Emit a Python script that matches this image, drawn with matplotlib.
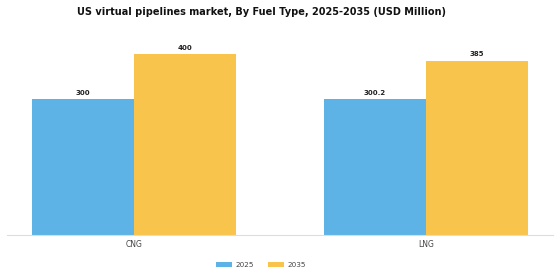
import numpy as np
import matplotlib
matplotlib.use("Agg")
import matplotlib.pyplot as plt

categories = ["CNG", "LNG"]
years = ["2025", "2035"]
values_2025 = [300, 300.2]
values_2035 = [400, 385]
labels_2025 = ["300", "300.2"]
labels_2035 = ["400", "385"]

colors = ["#5DB3E6", "#F8C44C"]

fig = plt.figure(figsize=(5.6, 2.8), dpi=100)
ax = fig.add_axes([0.0125, 0.161, 0.975, 0.71])

x = np.arange(len(categories))
w = 0.35
b1 = ax.bar(x - w / 2, values_2025, w, color=colors[0], label=years[0])
b2 = ax.bar(x + w / 2, values_2035, w, color=colors[1], label=years[1])

for bars, labs in ((b1, labels_2025), (b2, labels_2035)):
    for bar, lab in zip(bars, labs):
        ax.text(bar.get_x() + bar.get_width() / 2, bar.get_height() + 8, lab,
                ha="center", va="bottom", fontsize=5, fontweight="bold", color="#222222")

ax.set_xlim(-0.435, 1.435)
ax.set_ylim(0, 440)
ax.set_xticks(x)
ax.set_xticklabels(categories, fontsize=5.5, color="#444444")
ax.tick_params(axis="x", length=0, pad=4)
ax.set_yticks([])
for s in ["top", "right", "left"]:
    ax.spines[s].set_visible(False)
ax.spines["bottom"].set_color("#dddddd")

fig.suptitle("US virtual pipelines market, By Fuel Type, 2025-2035 (USD Million)",
             fontsize=7, fontweight="bold", x=0.467, y=0.975, color="#111111")

fig.legend(loc="center", bbox_to_anchor=(0.466, 0.055), ncol=2, frameon=False,
           fontsize=5.2, handlelength=2.2, handleheight=0.7, handletextpad=0.5,
           columnspacing=1.9, labelcolor="#444444")

fig.savefig("out.png", dpi=100)
